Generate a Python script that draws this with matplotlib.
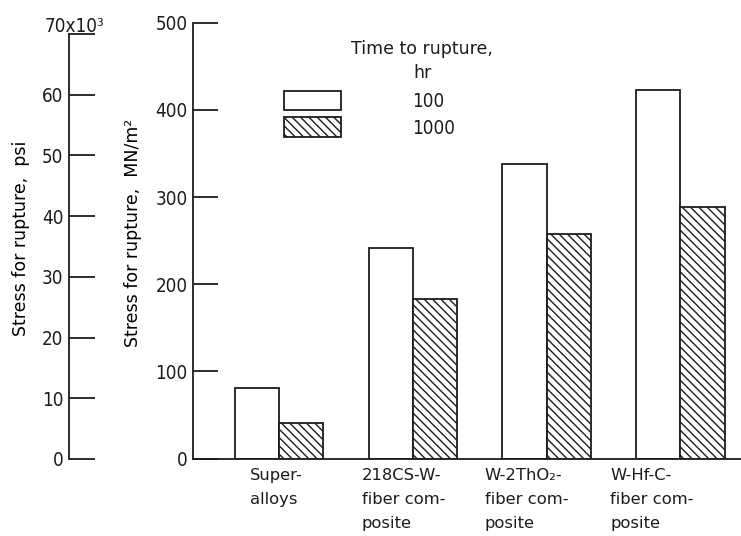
import numpy as np
import matplotlib
matplotlib.use('Agg')
import matplotlib.pyplot as plt
from matplotlib import font_manager
from matplotlib.font_manager import FontProperties
import matplotlib.transforms as mtransforms

# ---------------- data ----------------
categories = ['Super-\nalloys',
              '218CS-W-\nfiber com-\nposite',
              'W-2ThO\u2082-\nfiber com-\nposite',
              'W-Hf-C-\nfiber com-\nposite']
series_labels = ['100', '1000']
legend_title = 'Time to rupture,\nhr'
stress_100hr = [81, 241, 338, 423]      # MN/m^2
stress_1000hr = [41, 183, 258, 289]     # MN/m^2
mn_ticks = [0, 100, 200, 300, 400, 500]
psi_ticks = [0, 10, 20, 30, 40, 50, 60, 70]
psi_ticklabels = ['0', '10', '20', '30', '40', '50', '60', '']
psi_top_label = '70x10\u00b3'
ylabel_mn = 'Stress for rupture,  MN/m\u00b2'
ylabel_psi = 'Stress for rupture,  psi'

# ---------------- style ----------------
ink = '#1c1c1c'

# look for a condensed / narrow sans face for the numerals
narrow_path = None
cands = []
for f in font_manager.fontManager.ttflist:
    nm = (f.name + ' ' + f.fname).lower()
    if f.style != 'normal':
        continue
    if f.weight not in (400, 'normal', 'regular', 'book'):
        continue
    if ('narrow' in nm or 'condensed' in nm or str(f.stretch) in ('condensed', 'semi-condensed')) \
            and 'mono' not in nm and 'serif' not in nm.replace('sans-serif', ''):
        if 'liberation' in nm and 'narrow' in nm:
            score = 5
        elif 'dejavu' in nm:
            score = 4
        elif 'roboto' in nm:
            score = 3
        elif 'noto' in nm:
            score = 2
        else:
            score = 1
        if 'semi' in nm or 'extra' in nm or 'ultra' in nm:
            score -= 0.5
        cands.append((score, f.fname))
if cands:
    cands.sort(reverse=True)
    narrow_path = cands[0][1]

numsize = 13.5
if narrow_path:
    numprop = FontProperties(fname=narrow_path, size=numsize)
else:
    numsize = 12.5
    numprop = FontProperties(family='Liberation Sans', size=numsize)
numpx = numsize * 100 / 72

plt.rcParams['font.family'] = ['DejaVu Sans']
plt.rcParams['hatch.linewidth'] = 1.0
plt.rcParams['hatch.color'] = ink
plt.rcParams['text.color'] = ink

W, H = 741, 536
def fx(px):
    return px / W
def fy(py):
    return 1 - py / H

fig = plt.figure(figsize=(W / 100, H / 100), dpi=100)
fig.patch.set_facecolor('white')

ax = fig.add_axes([fx(193), fy(458.5), fx(741) - fx(193), fy(22.7) - fy(458.5)])
ax2 = fig.add_axes([fx(69), fy(459), 0.002, fy(34) - fy(459)])

x = np.arange(len(categories))
w = 0.33
b1 = ax.bar(x - w, stress_100hr, width=w, align='edge', facecolor='white',
            edgecolor=ink, linewidth=1.3, zorder=2)
b2 = ax.bar(x, stress_1000hr, width=w, align='edge', facecolor='white',
            edgecolor=ink, linewidth=1.3, hatch='\\\\\\\\', zorder=2)

ax.set_xlim(-0.643, 3.453)
ax.set_ylim(0, 500)
for s in ['top', 'right']:
    ax.spines[s].set_visible(False)
for s in ['left', 'bottom']:
    ax.spines[s].set_linewidth(1.3)
    ax.spines[s].set_color(ink)
ax.patch.set_visible(False)

ax.set_yticks(mn_ticks)
ax.tick_params(axis='y', direction='in', length=18, width=1.3, pad=4, colors=ink)
for lab in ax.get_yticklabels():
    lab.set_fontproperties(numprop)

# category labels (left-aligned multi-line blocks under each group)
ax.set_xticks([])
label_left_px = [-29, -51, -62, -70]
base = mtransforms.blended_transform_factory(ax.transData, ax.transAxes)
for xi, txt, dx in zip(x, categories, label_left_px):
    tr = base + mtransforms.ScaledTranslation(dx / 100, -9.5 / 100, fig.dpi_scale_trans)
    ax.text(xi, 0, txt, transform=tr, ha='left', va='top', multialignment='left',
            fontsize=11.8, linespacing=1.75, color=ink, clip_on=False)

ax.set_ylabel(ylabel_mn, fontsize=12.5)
ax.yaxis.set_label_coords(fx(133), fy(232.5), transform=fig.transFigure)
ax.yaxis.label.set_va('center')

# psi axis
ax2.set_ylim(0, 70)
ax2.set_xticks([])
for s in ['top', 'right', 'bottom']:
    ax2.spines[s].set_visible(False)
ax2.spines['left'].set_linewidth(1.3)
ax2.spines['left'].set_color(ink)
ax2.patch.set_visible(False)
ax2.set_yticks(psi_ticks)
ax2.set_yticklabels(psi_ticklabels)
ax2.tick_params(axis='y', direction='in', length=19, width=1.3, pad=4, colors=ink)
for lab in ax2.get_yticklabels():
    lab.set_fontproperties(numprop)
ax2.annotate(psi_top_label, xy=(0, psi_ticks[-1]), xycoords=('axes fraction', 'data'),
             xytext=(-24, 2), textcoords='offset pixels', ha='left', va='baseline',
             fontproperties=numprop, color=ink)
ax2.set_ylabel(ylabel_psi, fontsize=12.5)
ax2.yaxis.set_label_coords(fx(21), fy(238), transform=fig.transFigure)
ax2.yaxis.label.set_va('center')

# legend
leg = ax.legend([b1, b2], series_labels, loc='center left',
                bbox_to_anchor=(fx(284), fy(114)), bbox_transform=fig.transFigure,
                frameon=False, prop=numprop,
                handlelength=57 / numpx, handleheight=1.25,
                handletextpad=(412 - 341) / numpx,
                labelspacing=0.35, borderpad=0, borderaxespad=0)
fig.text(fx(422), fy(61), legend_title, ha='center', va='center',
         multialignment='center', fontsize=12.5, linespacing=1.5, color=ink)

fig.savefig('out.png', dpi=100, facecolor='white')
